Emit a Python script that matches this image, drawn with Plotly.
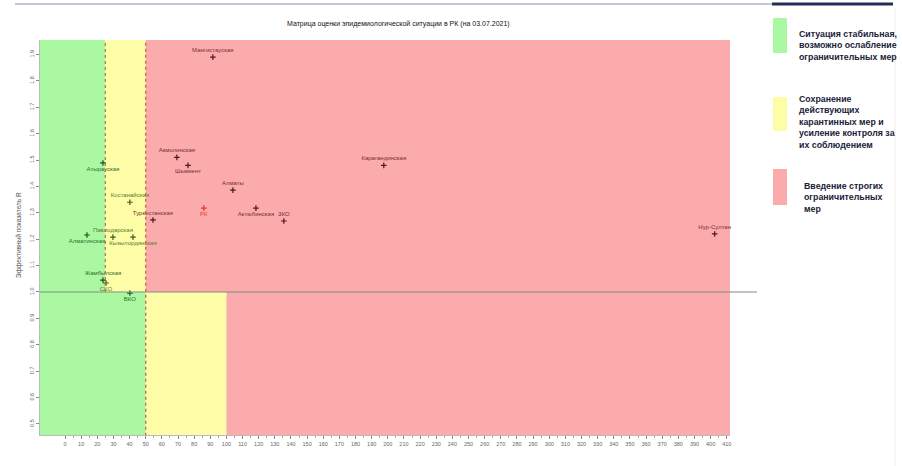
import plotly.graph_objects as go

# ---- data ----
regions = ["Мангистауская", "Акмолинская", "Шымкент", "Алматы", "Карагандинская",
           "Туркестанская", "РК", "Актюбинская", "ЗКО", "Нур-Султан",
           "Костанайская", "Павлодарская", "Алматинская", "Кызылординская",
           "Атырауская", "Жамбылская", "СКО", "ВКО"]
incidence = [91.6, 69.3, 76.2, 104.0, 197.5, 54.5, 86.0, 118.3, 135.6, 402.5,
             40.2, 29.7, 13.6, 42.1, 23.5, 23.5, 25.4, 40.2]
r_value = [1.89, 1.51, 1.48, 1.386, 1.48, 1.273, 1.318, 1.318, 1.269, 1.22,
           1.34, 1.208, 1.216, 1.208, 1.489, 1.045, 1.034, 0.996]
label_pos = ["top center", "top center", "bottom center", "top center", "top center",
             "top center", "bottom center", "bottom center", "top center", "top center",
             "top center", "top center", "bottom center", "bottom center",
             "bottom center", "top center", "bottom center", "bottom center"]

x_ticks = list(range(0, 411, 10))
x_minor_ticks = list(range(5, 411, 10))

# zone thresholds
R_LIMIT = 1.0
X_GREEN_HIGH = 25    # R > 1
X_YELLOW_HIGH = 50   # R > 1
X_GREEN_LOW = 50     # R <= 1
X_YELLOW_LOW = 100   # R <= 1

X_RANGE = [-15.5, 412]
Y_RANGE = [0.458, 1.955]

GREEN = "#aaf9a2"
YELLOW = "#fdfda8"
RED = "#fcabac"

legend_items = [
    (GREEN, "Ситуация стабильная,<br>возможно ослабление<br>ограничительных мер"),
    (YELLOW, "Сохранение<br>действующих<br>карантинных мер и<br>усиление контроля за<br>их соблюдением"),
    (RED, "Введение строгих<br>ограничительных<br>мер"),
]

title_text = "Матрица оценки эпидемиологической ситуации в РК (на 03.07.2021)"
y_title = "Эффективный показатель R"

# ---- layout geometry (pixels) ----
W, H = 902, 466
ML, MR, MT, MB = 40, 172, 40, 31
PW, PH = W - ML - MR, H - MT - MB


def px(x):
    return (x - ML) / PW


def py(y):
    return (H - MB - y) / PH


def zone(x, r):
    if r > R_LIMIT:
        if x <= X_GREEN_HIGH:
            return "g"
        if x <= X_YELLOW_HIGH:
            return "y"
        return "r"
    if x <= X_GREEN_LOW:
        return "g"
    if x <= X_YELLOW_LOW:
        return "y"
    return "r"


text_col = {"g": "#2f6e2f", "y": "#5e7a2a", "r": "#7a2f2f"}
mark_col = {"g": "#1f4f1f", "y": "#3f5a1f", "r": "#4a1a1a"}
tcolors, mcolors = [], []
for n, x, r in zip(regions, incidence, r_value):
    z = zone(x, r)
    if n == "РК":
        tcolors.append("#e8302c")
        mcolors.append("#e8302c")
    else:
        tcolors.append(text_col[z])
        mcolors.append(mark_col[z])

fig = go.Figure()

shapes = []
lo, hi = -50, 500
# background zones
shapes += [
    dict(type="rect", xref="x", yref="y", x0=lo, x1=X_GREEN_HIGH, y0=R_LIMIT, y1=3, fillcolor=GREEN, line_width=0, layer="below"),
    dict(type="rect", xref="x", yref="y", x0=X_GREEN_HIGH, x1=X_YELLOW_HIGH, y0=R_LIMIT, y1=3, fillcolor=YELLOW, line_width=0, layer="below"),
    dict(type="rect", xref="x", yref="y", x0=X_YELLOW_HIGH, x1=hi, y0=R_LIMIT, y1=3, fillcolor=RED, line_width=0, layer="below"),
    dict(type="rect", xref="x", yref="y", x0=lo, x1=X_GREEN_LOW, y0=0, y1=R_LIMIT, fillcolor=GREEN, line_width=0, layer="below"),
    dict(type="rect", xref="x", yref="y", x0=X_GREEN_LOW, x1=X_YELLOW_LOW, y0=0, y1=R_LIMIT, fillcolor=YELLOW, line_width=0, layer="below"),
    dict(type="rect", xref="x", yref="y", x0=X_YELLOW_LOW, x1=hi, y0=0, y1=R_LIMIT, fillcolor=RED, line_width=0, layer="below"),
]
# dashed boundaries
shapes += [
    dict(type="line", xref="x", yref="y", x0=X_GREEN_HIGH, x1=X_GREEN_HIGH, y0=R_LIMIT, y1=3,
         line=dict(color="#c0703a", width=1.2, dash="dot")),
    dict(type="line", xref="x", yref="y", x0=X_YELLOW_HIGH, x1=X_YELLOW_HIGH, y0=0, y1=3,
         line=dict(color="#c0603a", width=1.2, dash="dot")),
]
# R = 1 line (extends past the plot)
shapes.append(dict(type="line", xref="paper", yref="y", x0=0, x1=px(757), y0=R_LIMIT, y1=R_LIMIT,
                   line=dict(color="#7f8f80", width=1)))
# slide decoration at top
shapes += [
    dict(type="line", xref="paper", yref="paper", x0=px(15), x1=px(772), y0=py(4), y1=py(4),
         line=dict(color="#c4c6d6", width=2)),
    dict(type="line", xref="paper", yref="paper", x0=px(772), x1=px(893), y0=py(4), y1=py(4),
         line=dict(color="#1f2f5a", width=3)),
    dict(type="line", xref="paper", yref="paper", x0=px(895), x1=px(895), y0=py(8), y1=py(466),
         line=dict(color="#eeeeee", width=1)),
]
# legend boxes
legend_boxes = [(18, 53), (97, 131), (169, 205)]
legend_text_y = [27, 92, 179]
legend_text_x = [797, 797, 802]
annotations = []
for (col, txt), (y0, y1), ty, tx in zip(legend_items, legend_boxes, legend_text_y, legend_text_x):
    shapes.append(dict(type="rect", xref="paper", yref="paper", x0=px(773), x1=px(787),
                       y0=py(y1), y1=py(y0), fillcolor=col, line_width=0))
    annotations.append(dict(xref="paper", yref="paper", x=px(tx), y=py(ty), text="<b>" + txt + "</b>",
                            showarrow=False, xanchor="left", yanchor="top", align="left",
                            font=dict(family="Liberation Sans", size=8.8, color="#1a2238")))

annotations.append(dict(xref="paper", yref="paper", x=px(398), y=py(24), text=title_text,
                        showarrow=False, xanchor="center", yanchor="middle",
                        font=dict(family="Liberation Sans", size=7, color="#111111")))
annotations.append(dict(xref="paper", yref="paper", x=px(19), y=py(235), text=y_title,
                        showarrow=False, textangle=-90, xanchor="center", yanchor="middle",
                        font=dict(family="Liberation Sans", size=6.5, color="#555555")))

fig.add_trace(go.Scatter(
    x=incidence, y=r_value, mode="markers+text", text=regions, textposition=label_pos,
    textfont=dict(family="Liberation Sans", size=6, color=tcolors),
    marker=dict(symbol="cross-thin", size=4, color=mcolors, line=dict(color=mcolors, width=1.2)),
    hoverinfo="text", showlegend=False, cliponaxis=False,
))

fig.update_layout(
    width=W, height=H, margin=dict(l=ML, r=MR, t=MT, b=MB),
    paper_bgcolor="white", plot_bgcolor="white",
    shapes=shapes, annotations=annotations, showlegend=False,
    xaxis=dict(range=X_RANGE, tickmode="array", tickvals=x_ticks, showgrid=False, zeroline=False,
               ticks="outside", ticklen=3, tickcolor="#888888", showline=True, linecolor="#bbbbbb",
               automargin=False,
               tickfont=dict(family="Liberation Sans", size=5.5, color="#666666"),
               minor=dict(tickmode="array", tickvals=x_minor_ticks, ticks="outside", ticklen=2,
                          tickcolor="#aaaaaa")),
    yaxis=dict(range=Y_RANGE, tick0=0.5, dtick=0.1, tickformat=".1f", showgrid=False, zeroline=False,
               ticks="outside", ticklen=3, tickcolor="#888888", showline=True, linecolor="#bbbbbb",
               automargin=False,
               tickangle=-90, tickfont=dict(family="Liberation Sans", size=5.5, color="#666666")),
)

fig.write_html("out.html", config={"displayModeBar": False},
               post_script="document.body.style.margin='0px';")
